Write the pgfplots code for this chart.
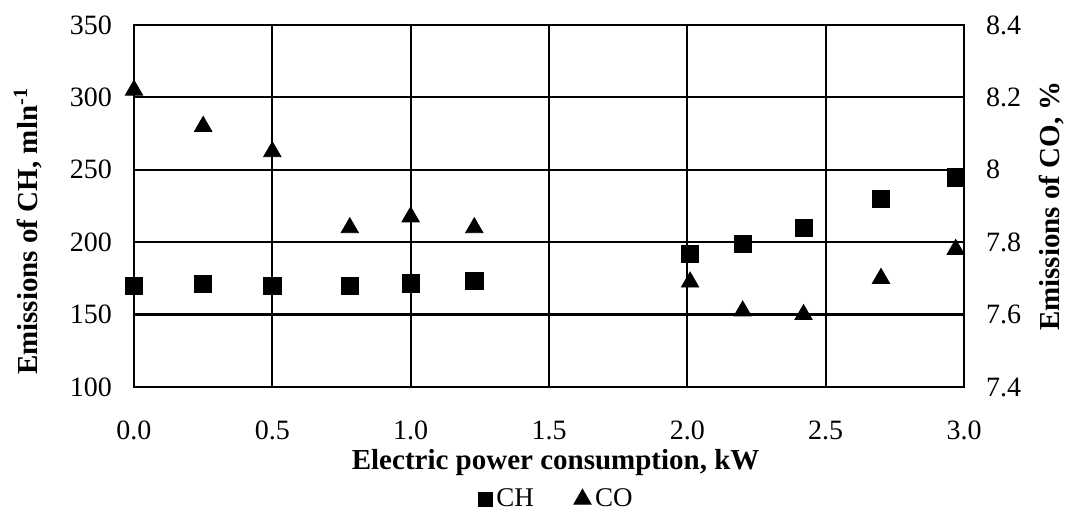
\documentclass[border=0pt]{standalone}
\usepackage{fontspec}
\setmainfont{Liberation Serif}
\usepackage{pgfplots}
\pgfplotsset{compat=1.18}
\begin{document}
\begin{tikzpicture}
\pgfplotsset{
  common/.style={
    scale only axis, width=415pt, height=181pt,
    xmin=0, xmax=3, clip=false,
    major tick length=0pt,
    axis line style={black, line width=1.1pt},
    tick label style={font=\fontsize{14}{16}\selectfont},
    /pgf/number format/assume math mode=true,
    label style={font=\fontsize{14.5}{17}\selectfont\bfseries},
  }
}
\begin{axis}[common, name=ax,
  ymin=100, ymax=350,
  xtick={0,0.5,1,1.5,2,2.5,3}, ytick={100,150,200,250,300,350},
  xtick pos=bottom, ytick pos=left,
  grid=major, major grid style={black, line width=1.1pt},
  xticklabel style={/pgf/number format/.cd, fixed, fixed zerofill, precision=1, /tikz/.cd, anchor=center, yshift=-21.5pt},
  yticklabel style={xshift=-7.5pt},
  xlabel={Electric power consumption, kW},
  xlabel style={at={(axis description cs:0.508,-0.21)}, anchor=center},
  ylabel={Emissions of CH, mln\textsuperscript{-1}},
  ylabel style={at={(axis description cs:-0.1277,0.43)}, anchor=center},
]
\addplot[only marks, mark=square*, mark size=4.3pt, black] coordinates {
(0.00,170) (0.25,171) (0.50,170) (0.78,170) (1.00,171.5) (1.23,173.5)
(2.01,192) (2.20,198.6) (2.42,210) (2.70,230) (2.97,244.8)
};
\end{axis}
\begin{axis}[common,
  ymin=7.4, ymax=8.4,
  ytick={7.4,7.6,7.8,8,8.2,8.4},
  axis y line*=right, axis x line=none,
  yticklabel style={xshift=7.5pt},
  ylabel={Emissions of CO, \%},
  ylabel style={at={(axis description cs:1.106,0.5)}, anchor=center},
  legend style={at={(axis description cs:0.51,-0.31)}, anchor=center, draw=none, fill=none,
     legend columns=2, font=\fontsize{13.5}{15}\selectfont,
     /tikz/every even column/.append style={column sep=18pt},
     inner sep=0pt},
  legend cell align=left,
  legend image code/.code={\draw[#1] plot coordinates {(0pt,0pt)};},
]
\addlegendimage{only marks, mark=square*, mark size=3.6pt, black}
\addlegendentry{CH}
\addplot[only marks, mark=triangle*, mark size=5pt, black, forget plot] coordinates {
(0.00,8.22) (0.25,8.12) (0.50,8.05) (0.78,7.84) (1.00,7.87) (1.23,7.84)
(2.01,7.69) (2.20,7.61) (2.42,7.60) (2.70,7.70) (2.97,7.78)
};
\addlegendimage{only marks, mark=triangle*, mark size=5pt, black}
\addlegendentry{CO}
\end{axis}
\pgfresetboundingbox
\path ([shift={(-67pt,-63pt)}]ax.south west) rectangle ([shift={(59pt,12.5pt)}]ax.north east);
\end{tikzpicture}
\end{document}
